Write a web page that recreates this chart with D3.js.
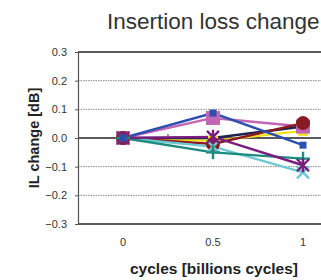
<!DOCTYPE html>
<html>
<head>
<meta charset="utf-8">
<script src="https://cdn.jsdelivr.net/npm/d3@7"></script>
<style>
  body { margin: 0; background: #fff; }
  svg { display: block; font-family: "Liberation Sans", Arial, sans-serif; }
</style>
</head>
<body>
<svg width="321" height="280"></svg>
<script>
// data
const cycles = [0, 0.5, 1];
const yTicks = [0.3, 0.2, 0.1, 0.0, -0.1, -0.2, -0.3];
const xTickLabels = ["0", "0.5", "1"];

const yellowVals = [0, -0.01, 0.025];
const pinkVals = [0, 0.07, 0.04];
const navyVals = [0, 0.0, 0.04];
const maroonVals = [0, -0.021, 0.052];
const cyanVals = [0, -0.03, -0.12];
const tealVals = [0, -0.05, -0.072];
const purpleVals = [0, 0.004, -0.095];
const blueVals = [0, 0.087, -0.025];

// series in draw order (bottom first)
const series = [
  {vals: yellowVals, color: "#f2e21a", mark: "square", size: 10},
  {vals: pinkVals, color: "#c265b5", mark: "square", size: 14},
  {vals: navyVals, color: "#1c2350", mark: "none", size: 0},
  {vals: maroonVals, color: "#8a1a22", mark: "circle", size: 7},
  {vals: cyanVals, color: "#6cc9d3", mark: "x", size: 6},
  {vals: tealVals, color: "#1f8a80", mark: "plus", size: 7},
  {vals: purpleVals, color: "#7b1d7e", mark: "star", size: 6},
  {vals: blueVals, color: "#2d4fb0", mark: "square", size: 7}
];

const svg = d3.select("svg");
const plotLeft = 78, plotTop = 52, plotBottom = 224, plotRight = 400;

const x = d3.scaleLinear().domain([0, 1]).range([123, 303]);
const y = d3.scaleLinear().domain([-0.3, 0.3]).range([plotBottom, plotTop]);

// title
svg.append("text")
  .attr("x", 107).attr("y", 29)
  .attr("font-size", 22.5)
  .attr("fill", "#333")
  .text("Insertion loss change");

// gridlines
const g = svg.append("g");
yTicks.forEach(t => {
  const solid = (t === 0.3 || t === 0 || t === -0.3);
  g.append("line")
    .attr("x1", plotLeft).attr("x2", plotRight)
    .attr("y1", y(t)).attr("y2", y(t))
    .attr("stroke", solid ? "#222" : "#888")
    .attr("stroke-width", solid ? 1.3 : 1)
    .attr("stroke-dasharray", solid ? null : "1.5,1");
});

// y axis
const yAxis = svg.append("g")
  .attr("transform", `translate(${plotLeft},0)`)
  .call(d3.axisLeft(y).tickValues(yTicks).tickFormat(d3.format(".1f")).tickSize(3).tickPadding(8));
yAxis.select(".domain").attr("stroke", "#555").attr("stroke-width", 1.2);
yAxis.selectAll(".tick line").attr("stroke", "#555");
yAxis.selectAll("text").attr("font-size", 11).attr("fill", "#333")
  .attr("font-family", "Liberation Sans, Arial, sans-serif");

// minor ticks on the zero line
[0.25, 0.75].forEach(t => {
  svg.append("line")
    .attr("x1", x(t)).attr("x2", x(t))
    .attr("y1", y(0)).attr("y2", y(0) - 4)
    .attr("stroke", "#333").attr("stroke-width", 1);
});

// x tick labels
svg.append("g").selectAll("text")
  .data(cycles)
  .join("text")
  .attr("x", d => x(d))
  .attr("y", 246)
  .attr("text-anchor", "middle")
  .attr("font-size", 11)
  .attr("fill", "#333")
  .text((d, i) => xTickLabels[i]);

// axis titles
svg.append("text")
  .attr("x", 214).attr("y", 274)
  .attr("text-anchor", "middle")
  .attr("font-size", 15.5)
  .attr("font-weight", "bold")
  .attr("fill", "#222")
  .text("cycles [billions cycles]");

svg.append("text")
  .attr("transform", `translate(39,${y(0)}) rotate(-90)`)
  .attr("text-anchor", "middle")
  .attr("font-size", 14.5)
  .attr("font-weight", "bold")
  .attr("fill", "#222")
  .text("IL change [dB]");

// lines and markers
const line = d3.line().x((d, i) => x(cycles[i])).y(d => y(d));

series.forEach(s => {
  svg.append("path")
    .attr("d", line(s.vals))
    .attr("fill", "none")
    .attr("stroke", s.color)
    .attr("stroke-width", 2.4);
});

series.forEach(s => {
  const mg = svg.append("g");
  s.vals.forEach((v, i) => {
    const cx = x(cycles[i]), cy = y(v), r = s.size;
    if (s.mark === "square") {
      mg.append("rect")
        .attr("x", cx - r / 2).attr("y", cy - r / 2)
        .attr("width", r).attr("height", r)
        .attr("fill", s.color);
    } else if (s.mark === "circle") {
      mg.append("circle").attr("cx", cx).attr("cy", cy).attr("r", r).attr("fill", s.color);
    } else if (s.mark === "plus") {
      mg.append("path")
        .attr("d", `M${cx - r},${cy}H${cx + r}M${cx},${cy - r}V${cy + r}`)
        .attr("stroke", s.color).attr("stroke-width", 2.4);
    } else if (s.mark === "x") {
      mg.append("path")
        .attr("d", `M${cx - r},${cy - r}L${cx + r},${cy + r}M${cx - r},${cy + r}L${cx + r},${cy - r}`)
        .attr("stroke", s.color).attr("stroke-width", 2.4);
    } else if (s.mark === "star") {
      mg.append("path")
        .attr("d", `M${cx - r},${cy - r}L${cx + r},${cy + r}M${cx - r},${cy + r}L${cx + r},${cy - r}M${cx},${cy - r - 1}V${cy + r + 1}`)
        .attr("stroke", s.color).attr("stroke-width", 2.4);
    }
  });
});
</script>
</body>
</html>
